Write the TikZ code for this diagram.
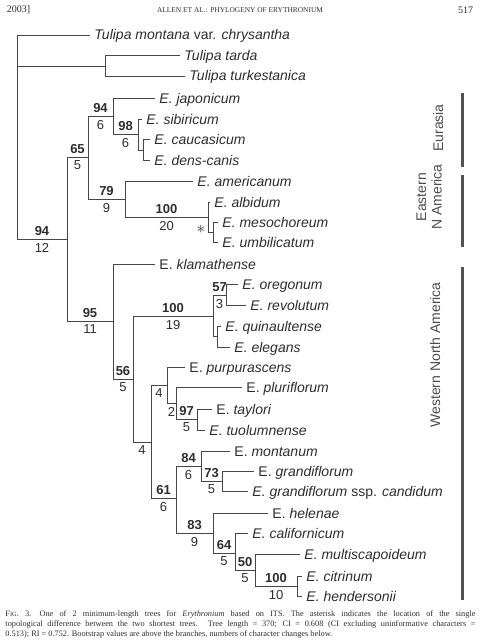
\documentclass[tikz,border=0pt]{standalone}
\usepackage{fontspec}
\setmainfont{Liberation Serif}
\setsansfont{Liberation Sans}
\definecolor{treeink}{RGB}{70,70,70}
\definecolor{textink}{RGB}{45,45,45}

\begin{document}
\begin{tikzpicture}[x=1pt, y=-1pt, line width=0.9pt, draw=treeink,
  every node/.style={font=\sffamily\fontsize{14}{14}\selectfont, text=textink},
  taxon/.style={anchor=west, inner xsep=4pt, inner ysep=0pt, text height=10pt, text depth=0pt},
  bs/.style={above, inner sep=3pt, font=\sffamily\bfseries\fontsize{13}{15}\selectfont},
  ch/.style={below, inner sep=3.5pt, font=\sffamily\fontsize{13}{15}\selectfont},
  region/.style={rotate=90, align=center, text=black!70, font=\sffamily\fontsize{14}{15.5}\selectfont},
  bar/.style={line width=3pt, draw=black!68},
  caption/.style={anchor=west, inner sep=0pt, font=\rmfamily\fontsize{8.3}{10}\selectfont}]

\useasboundingbox (0,0) rectangle (480,642);

% running head
\node[anchor=west, font=\rmfamily\fontsize{10}{12}\selectfont] (year) at (3,10) {2003]};
\node[font=\rmfamily\fontsize{7.4}{9}\selectfont] (runhead) at (240,10) {ALLEN ET AL.: PHYLOGENY OF ERYTHRONIUM};
\node[anchor=east, font=\rmfamily\fontsize{10}{12}\selectfont] (page) at (477,10) {517};

% taxa
\node[taxon] (tmon) at (90,35) {\textit{Tulipa montana} var. \textit{chrysantha}};
\node[taxon] (ttar) at (180,55) {\textit{Tulipa tarda}};
\node[taxon] (ttur) at (185,76) {\textit{Tulipa turkestanica}};
\node[taxon] (jap) at (155,98) {\textit{E. japonicum}};
\node[taxon] (sib) at (142,119) {\textit{E. sibiricum}};
\node[taxon] (cau) at (150,139) {\textit{E. caucasicum}};
\node[taxon] (den) at (150,160) {\textit{E. dens-canis}};
\node[taxon] (ame) at (193,181) {\textit{E. americanum}};
\node[taxon] (alb) at (210,202) {\textit{E. albidum}};
\node[taxon] (mes) at (218,222) {\textit{E. mesochoreum}};
\node[taxon] (umb) at (218,242) {\textit{E. umbilicatum}};
\node[taxon] (kla) at (155,264) {E. \textit{klamathense}};
\node[taxon] (ore) at (238,284) {\textit{E. oregonum}};
\node[taxon] (rev) at (246,305) {\textit{E. revolutum}};
\node[taxon] (qui) at (221,326) {\textit{E. quinaultense}};
\node[taxon] (ele) at (230,347) {\textit{E. elegans}};
\node[taxon] (pur) at (185,367) {E. \textit{purpurascens}};
\node[taxon] (plu) at (242,387) {E. \textit{pluriflorum}};
\node[taxon] (tay) at (212,409) {E. \textit{taylori}};
\node[taxon] (tuo) at (205,430) {\textit{E. tuolumnense}};
\node[taxon] (mon) at (230,451) {E. \textit{montanum}};
\node[taxon] (gra) at (254,471) {E. \textit{grandiflorum}};
\node[taxon] (gca) at (248,491) {\textit{E. grandiflorum} ssp. \textit{candidum}};
\node[taxon] (hel) at (268,513) {E. \textit{helenae}};
\node[taxon] (cal) at (248,533) {\textit{E. californicum}};
\node[taxon] (mul) at (300,554) {\textit{E. multiscapoideum}};
\node[taxon] (cit) at (302,576) {\textit{E. citrinum}};
\node[taxon] (hen) at (302,596) {\textit{E. hendersonii}};

% internal nodes
\coordinate (root) at (17,137);
\coordinate (ntul) at (105,66);
\coordinate (n94a) at (67,239);
\coordinate (n65) at (88,157);
\coordinate (n94b) at (113,116);
\coordinate (n98) at (138,134);
\coordinate (ncd) at (143,150);
\coordinate (n79) at (125,199);
\coordinate (n100a) at (208,217);
\coordinate (nmu) at (213,232);
\coordinate (n95) at (113,321);
\coordinate (n56) at (133,379);
\coordinate (n100b) at (213,316);
\coordinate (n57) at (226,295);
\coordinate (nqe) at (217,336);
\coordinate (n4a) at (151,442);
\coordinate (n4b) at (167,385);
\coordinate (n2) at (176,403);
\coordinate (n97) at (197,419);
\coordinate (n61) at (176,498);
\coordinate (n84) at (201,466);
\coordinate (n73) at (222,481);
\coordinate (n83) at (213,533);
\coordinate (n64) at (235,553);
\coordinate (n50) at (255,570);
\coordinate (n100c) at (297,586);

% branches
\foreach \p/\t in {root/tmon, ntul/ttar, ntul/ttur, n94b/jap, n98/sib, ncd/cau, ncd/den,
    n79/ame, n100a/alb, nmu/mes, nmu/umb, n95/kla, n57/ore, n57/rev, nqe/qui, nqe/ele,
    n4b/pur, n2/plu, n97/tay, n97/tuo, n84/mon, n73/gra, n73/gca, n83/hel, n64/cal,
    n50/mul, n100c/cit, n100c/hen}
  \draw (\p) |- (\t.west);
\foreach \p/\c in {root/ntul, n98/ncd, n100a/nmu, n100b/nqe}
  \draw (\p) |- (\c);
\foreach \p/\c/\b/\n in {root/n94a/94/12, n94a/n65/65/5, n65/n94b/94/6, n94b/n98/98/6,
    n65/n79/79/9, n79/n100a/100/20, n94a/n95/95/11, n95/n56/56/5, n56/n100b/100/19,
    n100b/n57/57/3, n2/n97/97/5, n4a/n61/61/6, n61/n84/84/6, n84/n73/73/5,
    n61/n83/83/9, n83/n64/64/5, n64/n50/50/5, n50/n100c/100/10}
  \draw (\p) |- node[bs,pos=.75] (b\c) {\b} node[ch,pos=.75] (c\c) {\n} (\c);
\foreach \p/\c/\n in {n56/n4a/4, n4a/n4b/4, n4b/n2/2}
  \draw (\p) |- node[ch,pos=.75] (c\c) {\n} (\c);

\node[font=\fontsize{17}{17}\selectfont] (ast) at (201,229) {$\ast$};

% regions
\draw[bar] (462,93) -- (462,167);
\draw[bar] (462,175) -- (462,247);
\draw[bar] (462,267) -- (462,600);
\node[region] (eura) at (438,128) {Eurasia};
\node[region] (eana) at (429,197) {Eastern\\N America};
\node[region] (wna) at (435,355) {Western North America};

% caption
\node[caption] (cap1) at (5,614) {\makebox[470pt][s]{F{\fontsize{6.4}{7}\selectfont IG}. 3.\quad One of 2 minimum-length trees for \textit{Erythronium} based on ITS. The asterisk indicates the location of the single}};
\node[caption] (cap2) at (5,624) {\makebox[470pt][s]{topological difference between the two shortest trees. Tree length = 370; CI = 0.608 (CI excluding uninformative characters =}};
\node[caption] (cap3) at (5,634) {0.513); RI = 0.752. Bootstrap values are above the branches, numbers of character changes below.};

\end{tikzpicture}
\end{document}
